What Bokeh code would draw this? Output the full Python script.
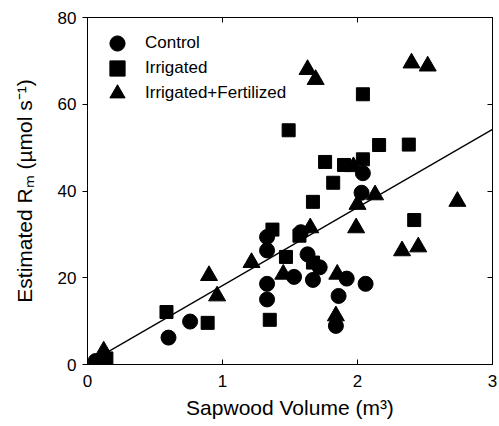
from bokeh.plotting import figure
from bokeh.models import Legend, LegendItem, LinearAxis, Range1d, FixedTicker
from bokeh.embed import file_html
from bokeh.resources import INLINE

# ---- data ----
ctrl_x = [0.06, 0.60, 0.76, 1.33, 1.33, 1.33, 1.33, 1.53, 1.58, 1.63, 1.67, 1.72, 1.84, 1.86, 1.92, 2.03, 2.04, 2.06]
ctrl_y = [0.8, 6.2, 9.9, 26.3, 29.4, 18.6, 15.0, 20.2, 30.5, 25.4, 19.5, 22.4, 8.9, 15.8, 19.8, 39.6, 44.1, 18.6]

irr_x = [0.14, 0.585, 0.89, 1.35, 1.37, 1.47, 1.49, 1.57, 1.67, 1.67, 1.76, 1.82, 1.90, 2.04, 2.04, 2.16, 2.38, 2.42]
irr_y = [1.4, 12.1, 9.6, 10.3, 31.1, 24.8, 54.0, 29.7, 37.5, 23.5, 46.7, 41.9, 46.0, 47.3, 62.3, 50.6, 50.7, 33.3]

fert_x = [0.12, 0.90, 0.96, 1.215, 1.45, 1.63, 1.65, 1.69, 1.85, 1.84, 1.97, 2.00, 1.99, 2.13, 2.33, 2.40, 2.45, 2.52, 2.74]
fert_y = [3.1, 20.5, 15.8, 23.5, 20.8, 68.0, 31.5, 65.7, 20.8, 11.2, 45.6, 36.9, 31.5, 39.1, 26.2, 69.5, 27.1, 68.8, 37.6]

fit_slope = 18.0
fit_intercept = 0.2
fit_x = [0.1, 3.0]

x_ticks = [0, 1, 2, 3]
y_ticks = [0, 20, 40, 60, 80]
series_names = ["Control", "Irrigated", "Irrigated+Fertilized"]

FONT = "Liberation Sans"

p = figure(width=499, height=426, output_backend="svg", toolbar_location=None,
           x_range=Range1d(0, 3), y_range=Range1d(0, 80),
           min_border_left=87, min_border_right=7, min_border_top=17, min_border_bottom=62,
           x_axis_label="Sapwood Volume (m³)", y_axis_label="Estimated Rₘ (µmol s⁻¹)")

p.grid.visible = False
p.outline_line_color = "black"
p.outline_line_width = 1
p.background_fill_color = "white"
p.border_fill_color = "white"

fit_y = [fit_slope * x + fit_intercept for x in fit_x]
p.line(fit_x, fit_y, line_color="black", line_width=1.3)

r_c = p.scatter(ctrl_x, ctrl_y, marker="circle", size=15, fill_color="black", line_color="black")
r_i = p.scatter(irr_x, irr_y, marker="square", size=13, fill_color="black", line_color="black")
r_f = p.scatter(fert_x, fert_y, marker="triangle", size=17, fill_color="black", line_color="black")

# axes styling
xa = p.xaxis[0]
ya = p.yaxis[0]
for ax in (xa, ya):
    ax.major_label_text_font = FONT
    ax.major_label_text_font_size = "17px"
    ax.major_label_text_color = "black"
    ax.axis_label_text_font = FONT
    ax.axis_label_text_font_size = "21px"
    ax.axis_label_text_font_style = "normal"
    ax.axis_label_text_color = "black"
    ax.axis_line_color = "black"
    ax.major_tick_line_color = "black"
    ax.minor_tick_line_color = None

xa.ticker = FixedTicker(ticks=x_ticks)
ya.ticker = FixedTicker(ticks=y_ticks)
xa.major_tick_in = 5
xa.major_tick_out = 0
xa.major_label_standoff = 10
xa.axis_label_standoff = 6
ya.major_tick_in = 0
ya.major_tick_out = 5
ya.major_label_standoff = 6
ya.axis_label_standoff = 19

# mirrored tick marks on top and right (no labels)
top = LinearAxis(ticker=FixedTicker(ticks=x_ticks), major_tick_in=5, major_tick_out=0,
                 major_label_text_font_size="1px", major_label_text_color=None,
                 major_label_standoff=0, minor_tick_line_color=None, axis_line_color="black")
right = LinearAxis(ticker=FixedTicker(ticks=y_ticks), major_tick_in=5, major_tick_out=0,
                   major_label_text_font_size="1px", major_label_text_color=None,
                   major_label_standoff=0, minor_tick_line_color=None, axis_line_color="black")
p.add_layout(top, "above")
p.add_layout(right, "right")

# legend: one single-row legend per series so rows can be packed tightly
legend_rows_vy = [302, 277, 252]
for name, rend, vy in zip(series_names, [r_c, r_i, r_f], legend_rows_vy):
    lg = Legend(items=[LegendItem(label=name, renderers=[rend])],
                location=(11, vy), border_line_alpha=0, background_fill_alpha=0,
                label_text_font=FONT, label_text_font_size="17px", label_text_color="black",
                glyph_width=38, glyph_height=38, label_height=20,
                margin=0, padding=0, label_standoff=9)
    p.add_layout(lg)

open("out.html", "w").write(file_html(p, INLINE))
